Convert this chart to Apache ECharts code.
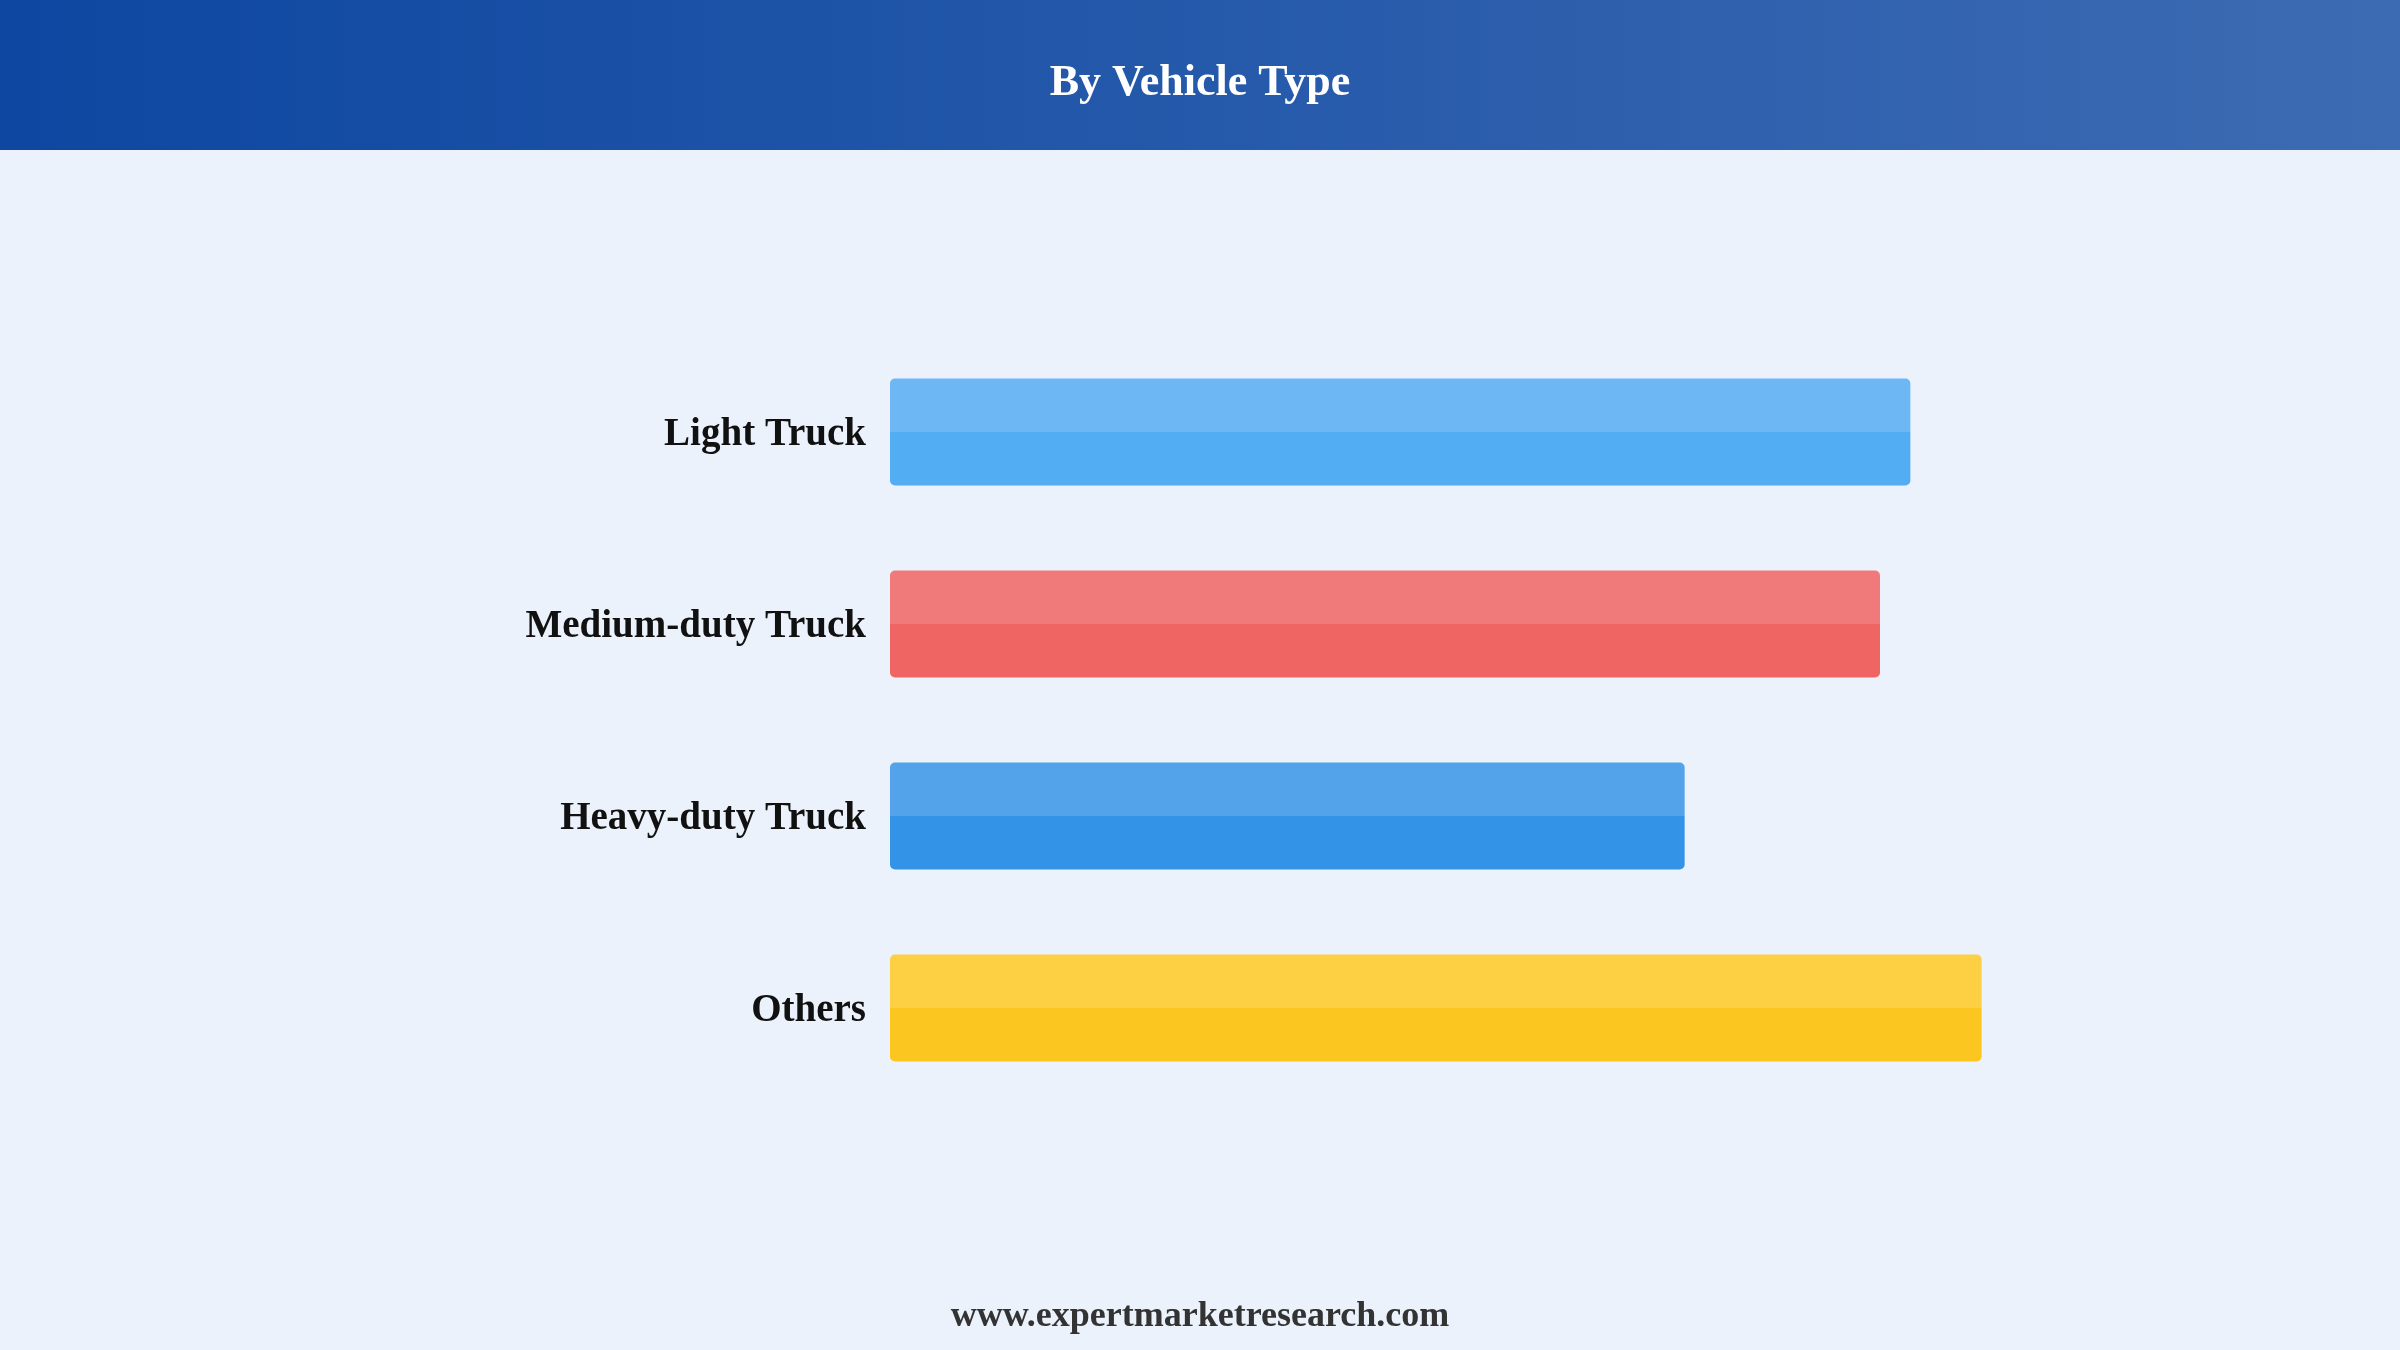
<!DOCTYPE html>
<html>
<head>
<meta charset="utf-8">
<title>By Vehicle Type</title>
<script src="https://cdn.jsdelivr.net/npm/echarts@6/dist/echarts.min.js"></script>
<style>
  html, body { margin: 0; padding: 0; background: #EBF2FB; }
  #chart { width: 2400px; height: 1350px; }
</style>
</head>
<body>
<div id="chart"></div>
<script>
  // --- data (no axis shown, relative bar lengths) ---
  const categories = ["Light Truck", "Medium-duty Truck", "Heavy-duty Truck", "Others"];
  const values = [77.3, 75.0, 60.2, 82.7];
  const topColors = ["#6DB7F5", "#F07A79", "#52A3EA", "#FDCF43"];
  const baseColors = ["#52ADF3", "#EF6563", "#3393E6", "#FCC621"];

  const SERIF = "'Times New Roman', 'Liberation Serif', serif";

  // two-tone bar: lighter top half, plain lower half
  const twoTone = (top, base) => ({
    type: "linear", x: 0, y: 0, x2: 0, y2: 1,
    colorStops: [
      { offset: 0, color: top }, { offset: 0.5, color: top },
      { offset: 0.5, color: base }, { offset: 1, color: base },
    ],
  });

  const chart = echarts.init(document.getElementById("chart"), null, { renderer: "canvas" });

  chart.setOption({
    backgroundColor: "#EBF2FB",
    animation: false,
    graphic: [
      {
        type: "rect", left: 0, top: 0, z: 0,
        shape: { width: 2400, height: 150 },
        style: {
          fill: {
            type: "linear", x: 0, y: 0, x2: 1, y2: 0,
            colorStops: [{ offset: 0, color: "#0D47A1" }, { offset: 1, color: "#3D6BB3" }],
          },
        },
      },
      {
        type: "text", x: 1200, y: 84, z: 1,
        style: {
          text: "By Vehicle Type", fill: "#FFFFFF",
          font: "bold 44px " + SERIF, align: "center", verticalAlign: "middle",
        },
      },
      {
        type: "text", x: 1200, y: 1317, z: 1,
        style: {
          text: "www.expertmarketresearch.com", fill: "#333333",
          font: "bold 36px " + SERIF, align: "center", verticalAlign: "middle",
        },
      },
    ],
    grid: { left: 890, top: 336, width: 1320, height: 768, containLabel: false },
    xAxis: {
      type: "value", min: 0, max: 100, show: false,
    },
    yAxis: {
      type: "category", data: categories, inverse: true,
      axisLine: { show: false }, axisTick: { show: false }, splitLine: { show: false },
      axisLabel: {
        margin: 24,
        formatter: (v) => "{lab|" + v + "}",
        rich: {
          lab: {
            color: "#111111", fontFamily: SERIF, fontWeight: "bold",
            fontSize: 39, padding: [6, 0, 0, 0],
          },
        },
      },
    },
    series: [{
      type: "bar",
      barWidth: 107,
      data: values.map((v, i) => ({
        value: v,
        itemStyle: { color: twoTone(topColors[i], baseColors[i]), borderRadius: 5 },
      })),
    }],
  });

  window.addEventListener("resize", () => chart.resize());
</script>
</body>
</html>
